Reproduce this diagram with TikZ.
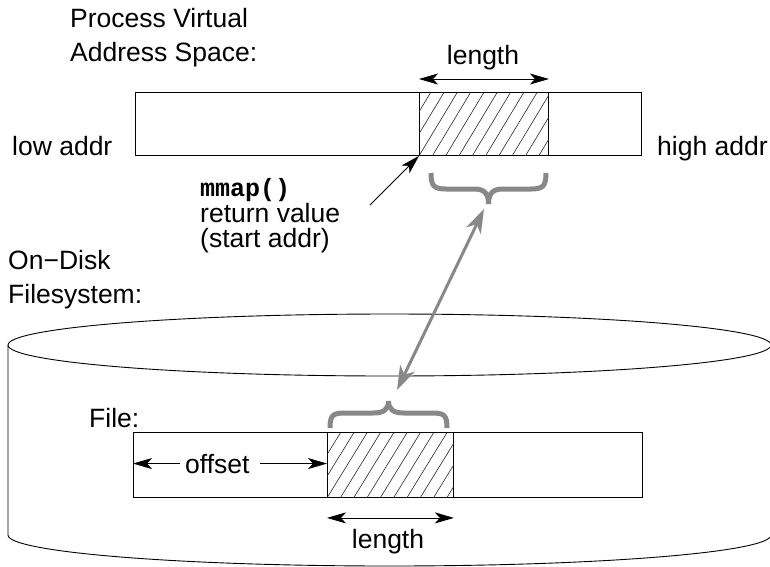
\documentclass[tikz,border=0pt]{standalone}
\usepackage{fontspec}
\setmainfont{Liberation Sans}
\newfontfamily\codefont{Liberation Mono}
\usetikzlibrary{arrows.meta,calc}
\definecolor{braceg}{HTML}{888888}
\begin{document}
\begin{tikzpicture}[x=1pt,y=-1pt,
  lbl/.style={font=\fontsize{26.5}{30}\selectfont, inner sep=0pt},
  bar/.style={draw, line width=0.9pt, inner sep=0pt, anchor=north west},
  hatch/.style={line width=0.6pt, black!85},
  blk/.style={line width=0.8pt, -{Stealth[length=19pt,width=11pt,inset=5pt]}},
  dbl/.style={line width=0.8pt, {Stealth[length=19pt,width=11pt,inset=5pt]}-{Stealth[length=19pt,width=11pt,inset=5pt]}},
  brc/.style={line width=5pt, braceg},
  garr/.style={line width=3pt, braceg, {Stealth[length=24pt,width=16pt,inset=7pt]}-{Stealth[length=24pt,width=16pt,inset=7pt]}},
  cyl/.style={line width=0.9pt}
]
\useasboundingbox (0,0) rectangle (770,566);
\clip (0,0) rectangle (770,566);

% cylinder
\draw[cyl] (389.5,345) ellipse [x radius=381.5, y radius=31];
\draw[cyl] (8,345) -- (8,535) arc[start angle=180, end angle=0, x radius=381.5, y radius=31] -- (771,345);

% labels
\node[lbl, anchor=base west] (t1) at (70,27) {Process Virtual};
\node[lbl, anchor=base west] (t2) at (70,61) {Address Space:};
\node[lbl, anchor=base west] (od1) at (8,269) {On−Disk};
\node[lbl, anchor=base west] (od2) at (8,303) {Filesystem:};
\node[lbl, anchor=base west] (low) at (12,155) {low addr};
\node[lbl, anchor=base west] (high) at (657,155) {high addr};
\node[lbl, anchor=base west, font=\fontsize{25}{30}\selectfont\codefont\bfseries] (mm1) at (200,196) {mmap()};
\node[lbl, anchor=base west] (mm2) at (200,222) {return value};
\node[lbl, anchor=base west] (mm3) at (200,247) {(start addr)};
\node[lbl, anchor=base west] (file) at (89,427) {File:};

% virtual address bar
\node[bar, minimum width=506, minimum height=63] (vbar) at (135,92) {};
\node[bar, minimum width=129, minimum height=63] (vsel) at (419,92) {};
\begin{scope}
  \clip (vsel.south west) rectangle (vsel.north east);
  \foreach \i in {-4,...,11}
    \draw[hatch] ($(vsel.south west)+(\i*13.3,0)$) -- ++(38,-63);
\end{scope}
\node[lbl, anchor=base] (len1) at (483,64) {length};
\draw[dbl] ([yshift=13pt]vsel.north west) -- ([yshift=13pt]vsel.north east);

% mmap pointer
\coordinate (mmtail) at (370,205);
\draw[blk] (mmtail) -- (vsel.south west);

% file bar
\node[bar, minimum width=509, minimum height=65] (fbar) at (133,432) {};
\node[bar, minimum width=126, minimum height=65] (fsel) at (327,432) {};
\begin{scope}
  \clip (fsel.south west) rectangle (fsel.north east);
  \foreach \i in {-4,...,11}
    \draw[hatch] ($(fsel.south west)+(\i*13.3,0)$) -- ++(40,-65);
\end{scope}
\node[lbl, anchor=base west] (off) at (185,473) {offset};
\draw[blk] ([xshift=-5pt]off.west) -- (off.west -| fbar.west);
\draw[blk] ([xshift=10pt]off.east) -- (off.east -| fsel.west);
\draw[dbl] ([yshift=-20pt]fsel.south west) -- ([yshift=-20pt]fsel.south east);
\node[lbl, anchor=base] (len2) at (388,548) {length};

% braces
\draw[brc] (431,173) .. controls (431,186) and (434,189) .. (446,189) -- (474,189)
  .. controls (484,189) and (488.5,193) .. (488.5,204)
  .. controls (488.5,193) and (493,189) .. (503,189) -- (531,189)
  .. controls (543,189) and (546,186) .. (546,173);
\coordinate (btop) at (484,209);
\draw[brc] (330,428) .. controls (330,415) and (333,413) .. (345,413) -- (373,413)
  .. controls (383,413) and (388.5,410) .. (388.5,401)
  .. controls (388.5,410) and (394,413) .. (404,413) -- (432,413)
  .. controls (444,413) and (447,415) .. (447,428);
\coordinate (bbot) at (397,390);
\draw[garr] (btop) -- (bbot);
\end{tikzpicture}
\end{document}
